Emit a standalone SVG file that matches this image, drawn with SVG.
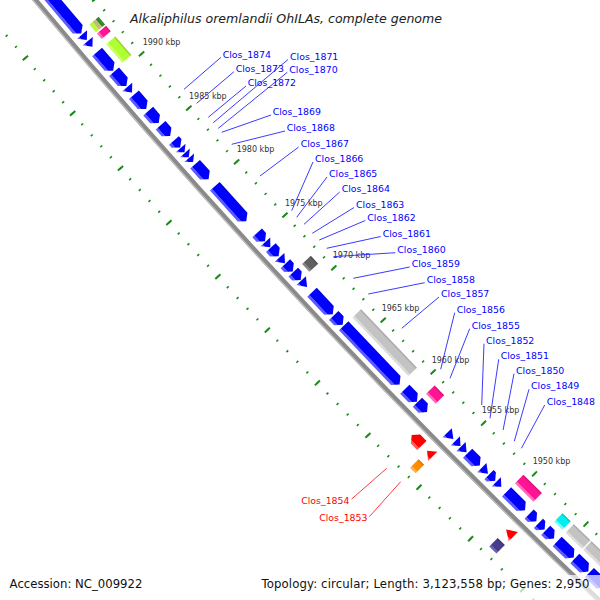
<svg xmlns="http://www.w3.org/2000/svg" width="600" height="600" viewBox="0 0 600 600">
<defs>
<linearGradient id="gBlue" gradientUnits="userSpaceOnUse" x1="0" y1="-20" x2="0" y2="-7"><stop offset="0" stop-color="#0000d0"/><stop offset="0.12" stop-color="#0000ff"/><stop offset="0.76" stop-color="#0000ff"/><stop offset="0.8" stop-color="#5a5aff"/><stop offset="1" stop-color="#5a5aff"/></linearGradient>
<linearGradient id="gRed" gradientUnits="userSpaceOnUse" x1="0" y1="7" x2="0" y2="20"><stop offset="0" stop-color="#d00000"/><stop offset="0.12" stop-color="#ff0000"/><stop offset="0.76" stop-color="#ff0000"/><stop offset="0.8" stop-color="#ff5a5a"/><stop offset="1" stop-color="#ff5a5a"/></linearGradient>
<linearGradient id="gPink" gradientUnits="userSpaceOnUse" x1="0" y1="-37.5" x2="0" y2="-25.5"><stop offset="0" stop-color="#c8106e"/><stop offset="0.18" stop-color="#ff1493"/><stop offset="0.76" stop-color="#ff1493"/><stop offset="0.8" stop-color="#ff6ab8"/><stop offset="1" stop-color="#ff6ab8"/></linearGradient>
<linearGradient id="gLime" gradientUnits="userSpaceOnUse" x1="0" y1="-37.5" x2="0" y2="-25.5"><stop offset="0" stop-color="#8cbf2a"/><stop offset="0.18" stop-color="#b0ff30"/><stop offset="0.76" stop-color="#b0ff30"/><stop offset="0.8" stop-color="#c8ff70"/><stop offset="1" stop-color="#c8ff70"/></linearGradient>
<linearGradient id="gGray" gradientUnits="userSpaceOnUse" x1="0" y1="-37.5" x2="0" y2="-25.5"><stop offset="0" stop-color="#a0a0a0"/><stop offset="0.18" stop-color="#c3c3c3"/><stop offset="0.76" stop-color="#c3c3c3"/><stop offset="0.8" stop-color="#dcdcdc"/><stop offset="1" stop-color="#dcdcdc"/></linearGradient>
<linearGradient id="gDGray" gradientUnits="userSpaceOnUse" x1="0" y1="-37.5" x2="0" y2="-25.5"><stop offset="0" stop-color="#464646"/><stop offset="0.18" stop-color="#606060"/><stop offset="0.76" stop-color="#606060"/><stop offset="0.8" stop-color="#858585"/><stop offset="1" stop-color="#858585"/></linearGradient>
<linearGradient id="gCyan" gradientUnits="userSpaceOnUse" x1="0" y1="-37.5" x2="0" y2="-25.5"><stop offset="0" stop-color="#00b8b8"/><stop offset="0.18" stop-color="#00f0f0"/><stop offset="0.76" stop-color="#00f0f0"/><stop offset="0.8" stop-color="#70ffff"/><stop offset="1" stop-color="#70ffff"/></linearGradient>
<linearGradient id="gOrange" gradientUnits="userSpaceOnUse" x1="0" y1="25.5" x2="0" y2="37.5"><stop offset="0" stop-color="#c86e00"/><stop offset="0.18" stop-color="#ff8c00"/><stop offset="0.76" stop-color="#ff8c00"/><stop offset="0.8" stop-color="#ffae40"/><stop offset="1" stop-color="#ffae40"/></linearGradient>
<linearGradient id="gSlate" gradientUnits="userSpaceOnUse" x1="0" y1="25.5" x2="0" y2="37.5"><stop offset="0" stop-color="#362d6a"/><stop offset="0.18" stop-color="#483d8b"/><stop offset="0.76" stop-color="#483d8b"/><stop offset="0.8" stop-color="#6a5fb0"/><stop offset="1" stop-color="#6a5fb0"/></linearGradient>
</defs>
<style>
.cds{fill:url(#gBlue)}
.fwd{fill:url(#gRed)}
.pink{fill:url(#gPink)}
.lime{fill:url(#gLime)}
.gray{fill:url(#gGray)}
.dgray{fill:url(#gDGray)}
.cyan{fill:url(#gCyan)}
.orange{fill:url(#gOrange)}
.slate{fill:url(#gSlate)}
.lbl{font-family:"DejaVu Sans",Verdana,sans-serif;font-size:9.4px;fill:#0000ff}
.lblr{font-family:"DejaVu Sans",Verdana,sans-serif;font-size:9.4px;fill:#ff0000}
.ll{stroke:#2424ff;stroke-width:0.9;fill:none}
.llr{stroke:#ff2424;stroke-width:0.9;fill:none}
.tk{font-family:"DejaVu Sans",Verdana,sans-serif;font-size:8px;fill:#333333}
.leg{font-family:"DejaVu Sans",Verdana,sans-serif;font-size:11.7px;fill:#111111}
</style>
<rect width="600" height="600" fill="#ffffff"/>

<g id="ticks" transform="translate(5555 -4617) rotate(140.2485)" fill="none" stroke="#1a8c1a">
<path d="M7150,0 A7150,7150 0 0 0 7097.98,-860.87" stroke-width="2.6" stroke-dasharray="1.6 12.7825" stroke-dashoffset="0.8"/>
<path d="M7150,0 A7150,7150 0 0 0 7097.98,-860.87" stroke-width="7" stroke-dasharray="2 69.9125" stroke-dashoffset="15.3825"/>
<path d="M7241,0 A7241,7241 0 0 0 7188.32,-871.83" stroke-width="2.6" stroke-dasharray="1.6 12.9656" stroke-dashoffset="0.8"/>
<path d="M7241,0 A7241,7241 0 0 0 7188.32,-871.83" stroke-width="7" stroke-dasharray="2 70.828" stroke-dashoffset="15.5656"/>
</g>

<g id="backbone" transform="translate(5555 -4617) rotate(140.2485)" fill="none">
<path d="M7196,0 A7196,7196 0 0 0 7143.65,-866.41" stroke="#8a8a8a" stroke-width="5"/>
<path d="M7198,0 A7198,7198 0 0 0 7145.63,-866.64" stroke="#bdbdbd" stroke-width="1.4"/>
</g>

<g id="features">
<g id="seg1995" transform="translate(59.7 28.9) rotate(49.7875)">
<path class="cds" d="M-57.8,-20 H11.84 L17.34,-13.5 L11.84,-7 H-57.8 Z"/>
<path class="cds" d="M18.79,-20 L26.01,-13.5 L18.79,-7 Z"/>
<path class="cds" d="M27.46,-20 L34.68,-13.5 L27.46,-7 Z"/>
<rect x="15.9" y="-37.5" width="10" height="4" fill="#2e8b2e"/>
<rect x="15.9" y="-33.5" width="10" height="4" fill="#c8b878"/>
<rect x="15.9" y="-29.5" width="10" height="4" fill="#b0ff30"/>
<rect class="pink" x="27.46" y="-37.5" width="7.22" height="12"/>
</g>
<g id="seg1990" transform="translate(106.7 83.9) rotate(49.2113)">
<path class="cds" d="M-30.35,-20 H-11.28 L-5.78,-13.5 L-11.28,-7 H-30.35 Z"/>
<path class="cds" d="M-4.34,-20 H8.95 L14.45,-13.5 L8.95,-7 H-4.34 Z"/>
<path class="cds" d="M15.9,-20 L23.12,-13.5 L15.9,-7 Z"/>
<path class="cds" d="M26.01,-20 H39.3 L44.8,-13.5 L39.3,-7 H26.01 Z"/>
<rect class="lime" x="-30.35" y="-37.5" width="24.57" height="12"/>
</g>
<g id="seg1985" transform="translate(154.3 138.5) rotate(48.635)">
<path class="cds" d="M-24.57,-20 H-14.17 L-8.67,-13.5 L-14.17,-7 H-24.57 Z"/>
<path class="cds" d="M-5.78,-20 H3.17 L8.67,-13.5 L3.17,-7 H-5.78 Z"/>
<path class="cds" d="M14.45,-20 H18.34 L23.84,-13.5 L18.34,-7 H14.45 Z"/>
<path class="cds" d="M24.57,-20 L30.35,-13.5 L24.57,-7 Z"/>
<path class="cds" d="M31.07,-20 L36.85,-13.5 L31.07,-7 Z"/>
<path class="cds" d="M37.57,-20 L43.35,-13.5 L37.57,-7 Z"/>
</g>
<g id="seg1980" transform="translate(202.4 192.6) rotate(48.0587)">
<path class="cds" d="M-26.01,-20 H-11.28 L-5.78,-13.5 L-11.28,-7 H-26.01 Z"/>
<path class="cds" d="M3.61,-20 H45.08 L50.58,-13.5 L45.08,-7 H3.61 Z"/>
</g>
<g id="seg1975" transform="translate(251.1 246.2) rotate(47.4825)">
<path class="cds" d="M-5.78,-20 H0.28 L5.78,-13.5 L0.28,-7 H-5.78 Z"/>
<path class="cds" d="M6.5,-20 L13.73,-13.5 L6.5,-7 Z"/>
<path class="cds" d="M14.45,-20 H20.51 L26.01,-13.5 L20.51,-7 H14.45 Z"/>
<path class="cds" d="M27.46,-20 L35.4,-13.5 L27.46,-7 Z"/>
</g>
<g id="seg1970" transform="translate(300.2 299.3) rotate(46.9062)">
<path class="cds" d="M-36.13,-20 H-30.79 L-25.29,-13.5 L-30.79,-7 H-36.13 Z"/>
<path class="cds" d="M-24.57,-20 H-19.23 L-13.73,-13.5 L-19.23,-7 H-24.57 Z"/>
<path class="cds" d="M-13.01,-20 L-4.34,-13.5 L-13.01,-7 Z"/>
<path class="cds" d="M2.89,-20 H27.74 L33.24,-13.5 L27.74,-7 H2.89 Z"/>
<rect class="dgray" x="-24.57" y="-37.5" width="10.84" height="12"/>
</g>
<g id="seg1965" transform="translate(349.9 351.9) rotate(46.3299)">
<path class="cds" d="M-37.57,-20 H-30.07 L-24.57,-13.5 L-30.07,-7 H-37.57 Z"/>
<path class="cds" d="M-23.12,-20 H52.3 L57.8,-13.5 L52.3,-7 H-23.12 Z"/>
<rect class="gray" x="-23.12" y="-37.5" width="80.92" height="12"/>
</g>
<g id="seg1960" transform="translate(400.2 403.9) rotate(45.7537)">
<path class="cds" d="M-7.23,-20 H4.62 L10.12,-13.5 L4.62,-7 H-7.23 Z"/>
<path class="cds" d="M10.84,-20 H19.07 L24.57,-13.5 L19.07,-7 H10.84 Z"/>
<rect class="pink" x="10.84" y="-37.5" width="13.73" height="12"/>
<path class="fwd" d="M44.8,7 H35.85 L30.35,13.5 L35.85,20 H44.8 Z"/>
</g>
<g id="seg1955" transform="translate(450.9 455.6) rotate(45.1774)">
<path class="fwd" d="M-12.3,7 L-20.2,13.5 L-12.3,20 Z"/>
<rect class="orange" x="-20.2" y="25.5" width="7.9" height="12"/>
<path class="cds" d="M-18.79,-20 L-10.12,-13.5 L-18.79,-7 Z"/>
<path class="cds" d="M-7.23,-20 L0,-13.5 L-7.23,-7 Z"/>
<path class="cds" d="M0.72,-20 L8.67,-13.5 L0.72,-7 Z"/>
<path class="cds" d="M10.12,-20 H21.96 L27.46,-13.5 L21.96,-7 H10.12 Z"/>
<path class="cds" d="M30.35,-20 L39.02,-13.5 L30.35,-7 Z"/>
</g>
<g id="seg1950" transform="translate(502.2 506.6) rotate(44.6011)">
<path class="cds" d="M-31.79,-20 H-28.62 L-23.12,-13.5 L-28.62,-7 H-31.79 Z"/>
<path class="cds" d="M-21.68,-20 L-14.45,-13.5 L-21.68,-7 Z"/>
<path class="cds" d="M-7.23,-20 H13.29 L18.79,-13.5 L13.29,-7 H-7.23 Z"/>
<rect class="pink" x="-7.23" y="-37.5" width="26.02" height="12"/>
<path class="cds" d="M24.57,-20 H29.18 L34.68,-13.5 L29.18,-7 H24.57 Z"/>
<path class="fwd" d="M28.9,7 L18.79,13.5 L28.9,20 Z"/>
<rect class="slate" x="18.79" y="25.5" width="10.11" height="12"/>
<path class="cds" d="M37.57,-20 H40.74 L46.24,-13.5 L40.74,-7 H37.57 Z"/>
</g>
<g id="seg1945" transform="translate(554 557.2) rotate(44.0249)">
<path class="cds" d="M-24.57,-20 H-18.5 L-13,-13.5 L-18.5,-7 H-24.57 Z"/>
<rect class="cyan" x="-24.57" y="-37.5" width="11.57" height="12"/>
<path class="cds" d="M-8.67,-20 H8.95 L14.45,-13.5 L8.95,-7 H-8.67 Z"/>
<rect class="gray" x="-8.67" y="-37.5" width="23.12" height="12"/>
<path class="cds" d="M15.9,-20 H29.18 L34.68,-13.5 L29.18,-7 H15.9 Z"/>
<rect class="gray" x="15.9" y="-37.5" width="34.68" height="12"/>
<path class="cds" d="M36.13,-20 H52.3 L57.8,-13.5 L52.3,-7 H36.13 Z"/>
</g>
<g id="seg1940" transform="translate(606.3 607.2) rotate(43.4486)">
<path class="cds" d="M-13,-20 H1.73 L7.23,-13.5 L1.73,-7 H-13 Z"/>
</g>
</g>

<g id="tick-labels" class="tk">
<text x="142.7" y="44.5">1990 kbp</text>
<text x="189" y="98.5">1985 kbp</text>
<text x="236.7" y="152">1980 kbp</text>
<text x="285" y="206">1975 kbp</text>
<text x="332.7" y="258">1970 kbp</text>
<text x="381.7" y="310.5">1965 kbp</text>
<text x="431.7" y="363">1960 kbp</text>
<text x="481.7" y="413">1955 kbp</text>
<text x="532.7" y="464">1950 kbp</text>
</g>

<g id="connectors">
<path class="ll" d="M184,89.3 L221,57.3"/>
<path class="ll" d="M196.7,103.3 L234,71.7"/>
<path class="ll" d="M208.3,117.3 L246,86"/>
<path class="ll" d="M213.3,122.7 L288,59.5"/>
<path class="ll" d="M218.3,128.3 L287.3,72.3"/>
<path class="ll" d="M221.7,132.3 L271,115"/>
<path class="ll" d="M231.7,144.3 L285,131"/>
<path class="ll" d="M260,176 L298.7,147"/>
<path class="ll" d="M291.7,210.7 L313,162"/>
<path class="ll" d="M296.7,217.3 L327,177"/>
<path class="ll" d="M304,224.3 L339.7,192"/>
<path class="ll" d="M312.3,233.3 L354,207.5"/>
<path class="ll" d="M319.3,240 L365.3,220.5"/>
<path class="ll" d="M326.7,248.3 L380.7,236.5"/>
<path class="ll" d="M333.3,256.7 L395.3,252.7"/>
<path class="ll" d="M353.3,278.3 L409.7,267"/>
<path class="ll" d="M368.3,294 L424.7,282.7"/>
<path class="ll" d="M401.7,328.3 L439,297"/>
<path class="ll" d="M440.7,369.3 L454.7,312.7"/>
<path class="ll" d="M450,378.3 L469.7,328.7"/>
<path class="ll" d="M481.7,405 L484,343.7"/>
<path class="ll" d="M490,418.3 L498.7,359.3"/>
<path class="ll" d="M503.1,430 L514,373.7"/>
<path class="ll" d="M514.3,441.2 L529,389.3"/>
<path class="ll" d="M521.4,448.3 L544.7,405"/>
<path class="llr" d="M386.7,468.3 L351.7,499"/>
<path class="llr" d="M400.7,481.7 L369.3,516.7"/>
</g>

<g id="labels">
<text class="lbl" x="222.7" y="57.7">Clos_1874</text>
<text class="lbl" x="235.7" y="72">Clos_1873</text>
<text class="lbl" x="247.7" y="86">Clos_1872</text>
<text class="lbl" x="290" y="60">Clos_1871</text>
<text class="lbl" x="289.3" y="72.7">Clos_1870</text>
<text class="lbl" x="272.7" y="115">Clos_1869</text>
<text class="lbl" x="286.7" y="131">Clos_1868</text>
<text class="lbl" x="300.7" y="147">Clos_1867</text>
<text class="lbl" x="315" y="162">Clos_1866</text>
<text class="lbl" x="329" y="177">Clos_1865</text>
<text class="lbl" x="341.7" y="192">Clos_1864</text>
<text class="lbl" x="356" y="207.5">Clos_1863</text>
<text class="lbl" x="367.3" y="220.5">Clos_1862</text>
<text class="lbl" x="382.7" y="236.5">Clos_1861</text>
<text class="lbl" x="397.3" y="252.7">Clos_1860</text>
<text class="lbl" x="411.7" y="267">Clos_1859</text>
<text class="lbl" x="426.7" y="282.7">Clos_1858</text>
<text class="lbl" x="441" y="297">Clos_1857</text>
<text class="lbl" x="456.7" y="312.7">Clos_1856</text>
<text class="lbl" x="471.7" y="328.7">Clos_1855</text>
<text class="lbl" x="486" y="343.7">Clos_1852</text>
<text class="lbl" x="500.7" y="359.3">Clos_1851</text>
<text class="lbl" x="516" y="373.7">Clos_1850</text>
<text class="lbl" x="531" y="389.3">Clos_1849</text>
<text class="lbl" x="546.7" y="405">Clos_1848</text>
<text class="lblr" x="349.5" y="503.5" text-anchor="end">Clos_1854</text>
<text class="lblr" x="367.5" y="521.3" text-anchor="end">Clos_1853</text>
</g>

<text x="130" y="22.5" font-family="DejaVu Sans, Verdana, sans-serif" font-size="13" font-style="italic" fill="#222222" textLength="312" lengthAdjust="spacingAndGlyphs">Alkaliphilus oremlandii OhILAs, complete genome</text>

<g id="legend">
<rect x="256" y="575" width="344" height="25" fill="#ffffff" fill-opacity="0.7"/>
<text class="leg" x="9.6" y="588" textLength="132.8" lengthAdjust="spacing">Accession: NC_009922</text>
<text class="leg" x="261.4" y="588" textLength="328" lengthAdjust="spacing">Topology: circular; Length: 3,123,558 bp; Genes: 2,950</text>
</g>
</svg>
